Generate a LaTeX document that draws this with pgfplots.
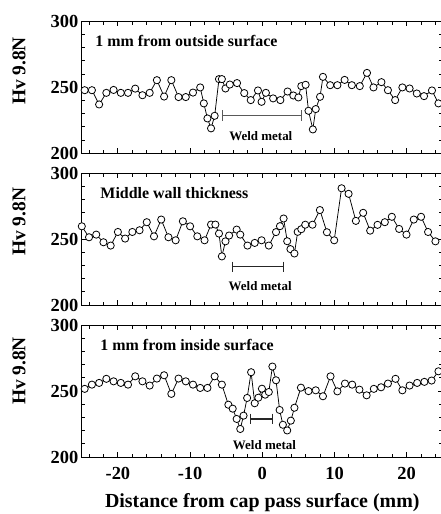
\documentclass[border=0pt]{standalone}
\usepackage{fontspec}
\setmainfont{Liberation Serif}
\usepackage{pgfplots}
\pgfplotsset{compat=1.18}

% hardness profiles, x in mm, y in Hv
\pgfplotstableread{
x y
-24.6 247.8
-23.6 247.8
-22.6 237.0
-21.6 245.8
-20.6 248.0
-19.6 245.8
-18.6 245.8
-17.6 249.0
-16.6 244.0
-15.6 245.8
-14.6 255.4
-13.6 243.0
-12.6 255.4
-11.6 242.6
-10.6 242.6
-9.6 246.0
-8.6 249.9
-8.1 237.8
-7.6 226.4
-7.1 218.9
-6.6 228.4
-6.0 256.2
-5.6 256.2
-5.1 249.1
-4.5 252.1
-3.5 253.2
-2.5 245.6
-1.6 240.3
-0.6 247.6
-0.1 239.0
0.5 245.8
1.5 241.6
2.5 240.3
3.5 246.8
4.3 243.8
5.0 242.3
5.4 250.9
6.0 251.9
6.4 232.2
7.0 218.1
7.4 233.5
8.0 242.8
8.4 257.9
9.4 251.6
10.4 251.6
11.4 255.6
12.4 251.6
13.5 250.9
14.5 260.9
15.4 249.9
16.5 253.9
17.4 247.8
18.4 240.3
19.4 249.9
20.4 249.1
21.4 245.3
22.4 243.3
23.5 247.6
24.4 237.8
}\taboutside

\pgfplotstableread{
x y
-25 259.7
-24 251.4
-23 253.4
-22 247.6
-21 245.1
-20 255.4
-19 250.4
-18 255.4
-17 256.7
-16 262.8
-15 252.1
-14 264.8
-13 251.4
-12 249.1
-11 263.5
-10 259.7
-9 252.1
-8 249.1
-7.1 261.0
-6.5 261.0
-6.0 254.2
-5.6 236.9
-5.1 248.3
-4.6 252.7
-3.55 257.2
-3.05 253.4
-2.05 245.1
-1.05 247.1
-0.1 249.1
0.9 245.1
1.9 255.3
2.45 259.8
2.95 265.6
3.45 248.4
3.9 242.4
4.45 239.1
4.9 255.5
5.4 257.5
5.95 260.9
6.95 260.9
7.98 272.0
8.95 255.2
9.96 249.1
10.98 288.5
11.95 284.3
12.96 263.8
13.97 269.9
14.94 256.4
15.96 260.8
16.97 262.8
17.94 266.9
18.95 257.7
19.97 253.4
20.98 264.8
21.99 266.9
22.96 255.4
23.98 248.3
}\tabmiddle

\pgfplotstableread{
x y
-24.6 251.7
-23.6 254.9
-22.6 256.2
-21.6 259.3
-20.6 257.4
-19.6 256.2
-18.6 254.9
-17.6 261.2
-16.6 257.4
-15.6 254.2
-14.6 259.5
-13.6 262.0
-12.6 247.9
-11.6 259.5
-10.6 257.4
-9.6 254.9
-8.6 252.4
-7.6 252.4
-6.6 261.2
-5.6 254.9
-4.7 239.7
-4.1 236.7
-3.55 228.9
-3.05 221.3
-2.6 231.4
-2.1 244.8
-1.55 264.3
-1.05 240.8
-0.55 245.0
-0.05 251.8
0.4 247.3
0.9 249.3
1.4 268.6
1.9 258.2
2.4 235.7
2.85 224.5
3.45 220.2
3.95 227.6
4.45 237.4
5.35 252.6
6.4 250.0
7.4 250.6
8.4 246.1
9.45 261.2
10.4 249.8
11.45 255.7
12.45 254.9
13.45 251.1
14.45 246.8
15.45 251.7
16.45 252.9
17.4 255.7
18.45 259.3
19.4 250.6
20.4 254.2
21.45 256.2
22.45 257.0
23.45 258.0
24.4 265.0
}\tabinside

\pgfplotsset{
  panel/.style={
    scale only axis, width=361bp, height=132bp, anchor=south west,
    xmin=-25, xmax=25, ymin=200, ymax=300,
    xtick={-20,-10,0,10,20}, minor xtick={-24,-22,...,24},
    ytick={200,250,300}, minor ytick={210,220,230,240,260,270,280,290},
    yticklabels={200,250,300},
    tick align=inside, tick pos=both,
    major tick length=5bp, minor tick length=3.5bp,
    axis line style={line width=1.1bp},
    every tick/.style={black, line width=0.9bp},
    tick label style={font=\fontsize{18.5}{21}\selectfont\bfseries},
    clip=false,
  },
  hv/.style={black, line width=0.75bp, mark=*, mark size=3.6bp,
    mark options={fill=white, draw=black, line width=0.8bp}},
  weld/.style={line width=1.1bp, mark=|, mark size=5.3bp,
    mark options={solid, line width=1.1bp}},
}
\tikzset{
  lbl/.style={font=\fontsize{16}{18}\selectfont\bfseries, anchor=west},
  wm/.style={font=\fontsize{13}{15}\selectfont\bfseries},
  ylab/.style={rotate=90, font=\fontsize{19.5}{21}\selectfont\bfseries},
}

\begin{document}
\begin{tikzpicture}
\begin{axis}[panel, at={(81.8bp,360.7bp)}, xticklabels={}]
\addplot[hv] table {\taboutside};
\addplot[weld, black!65] coordinates {(-5.57,228.7) (5.45,228.7)};
\node[lbl] at (rel axis cs:0.028,0.848) {1 mm from outside surface};
\node[wm] at (axis cs:-0.2,213) {Weld metal};
\end{axis}

\begin{axis}[panel, at={(81.8bp,208.9bp)}, xticklabels={}]
\addplot[hv] table {\tabmiddle};
\addplot[weld, black!85] coordinates {(-4.1,229) (2.9,229)};
\node[lbl] at (rel axis cs:0.042,0.848) {Middle wall thickness};
\node[wm] at (axis cs:-0.3,214.6) {Weld metal};
\end{axis}

\begin{axis}[panel, at={(81.8bp,56.9bp)},
  xticklabels={-20,-10,0,10,20}, xticklabel style={yshift=-6.5bp}]
\addplot[hv] table {\tabinside};
\addplot[weld, black!85] coordinates {(-1.6,228.9) (1.38,228.9)};
\node[lbl] at (rel axis cs:0.042,0.848) {1 mm from inside surface};
\node[wm] at (axis cs:0.3,209.2) {Weld metal};
\end{axis}

\node[ylab] at (19bp,443bp) {Hv 9.8N};
\node[ylab] at (19bp,292.3bp) {Hv 9.8N};
\node[ylab] at (19bp,143bp) {Hv 9.8N};
\node[font=\fontsize{20}{22}\selectfont\bfseries] at (262.3bp,11.5bp) {Distance from cap pass surface (mm)};

\pgfresetboundingbox
\useasboundingbox (0,0) rectangle (441bp,514bp);
\end{tikzpicture}
\end{document}
